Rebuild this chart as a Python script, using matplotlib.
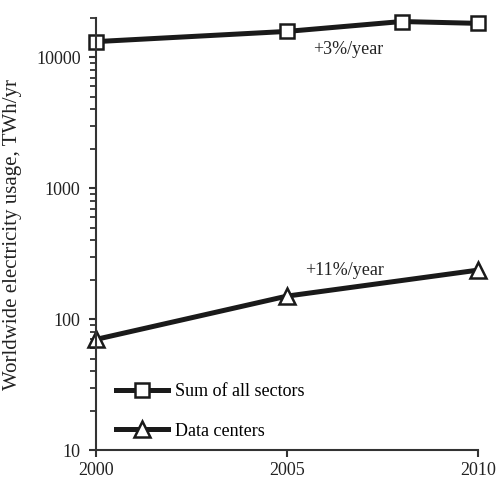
import matplotlib
matplotlib.use("Agg")
import matplotlib.pyplot as plt
from matplotlib.ticker import LogLocator, FixedLocator, NullFormatter

plt.rcParams["font.family"] = ["Liberation Serif", "DejaVu Serif"]

# values
sum_years = [2000, 2005, 2008, 2010]
sum_twh = [13200, 15800, 18800, 18200]
dc_years = [2000, 2005, 2010]
dc_twh = [70, 150, 237]
x_ticks = [2000, 2005, 2010]
y_ticks = [10, 100, 1000, 10000]

fig = plt.figure(figsize=(4.97, 4.96), dpi=100)
ax = fig.add_axes([0.193, 0.0927, 0.769, 0.871])

ax.plot(sum_years, sum_twh, color="#1a1a1a", lw=3.6, marker="s", ms=9.5,
        mfc="white", mec="#1a1a1a", mew=1.8, label="Sum of all sectors", clip_on=False)
ax.plot(dc_years, dc_twh, color="#1a1a1a", lw=3.6, marker="^", ms=11,
        mfc="white", mec="#1a1a1a", mew=1.8, label="Data centers", clip_on=False)

ax.set_yscale("log")
ax.set_ylim(10, 20000)
ax.set_xlim(2000, 2010)
ax.yaxis.set_major_locator(FixedLocator(y_ticks))
ax.set_yticklabels([str(v) for v in y_ticks])
ax.yaxis.set_minor_locator(LogLocator(base=10, subs=range(2, 10)))
ax.yaxis.set_minor_formatter(NullFormatter())
ax.set_xticks(x_ticks)
ax.set_xticklabels([str(v) for v in x_ticks])

for side in ["top", "right"]:
    ax.spines[side].set_visible(False)
for side in ["left", "bottom"]:
    ax.spines[side].set_linewidth(1.5)
    ax.spines[side].set_color("#333333")

ax.tick_params(axis="both", which="major", direction="out", length=5, width=1.5,
               colors="#333333", labelsize=13, labelcolor="#222222")
ax.tick_params(axis="y", which="minor", direction="out", length=4, width=1.3,
               colors="#333333")
ax.tick_params(axis="x", pad=3.5)
ax.tick_params(axis="y", pad=6)

ax.set_ylabel("Worldwide electricity usage, TWh/yr", fontsize=15, color="#222222",
              labelpad=10)

ax.text(2006.6, 11500, "+3%/year", fontsize=13, ha="center", va="center", color="#222222")
ax.text(2006.5, 237, "+11%/year", fontsize=13, ha="center", va="center", color="#222222")

ax.legend(loc="lower left", frameon=False, fontsize=13, handlelength=2.9,
          handletextpad=0.4, labelspacing=1.25, bbox_to_anchor=(0.005, -0.018),
          borderaxespad=0.6)

fig.savefig("out.png", dpi=100)
